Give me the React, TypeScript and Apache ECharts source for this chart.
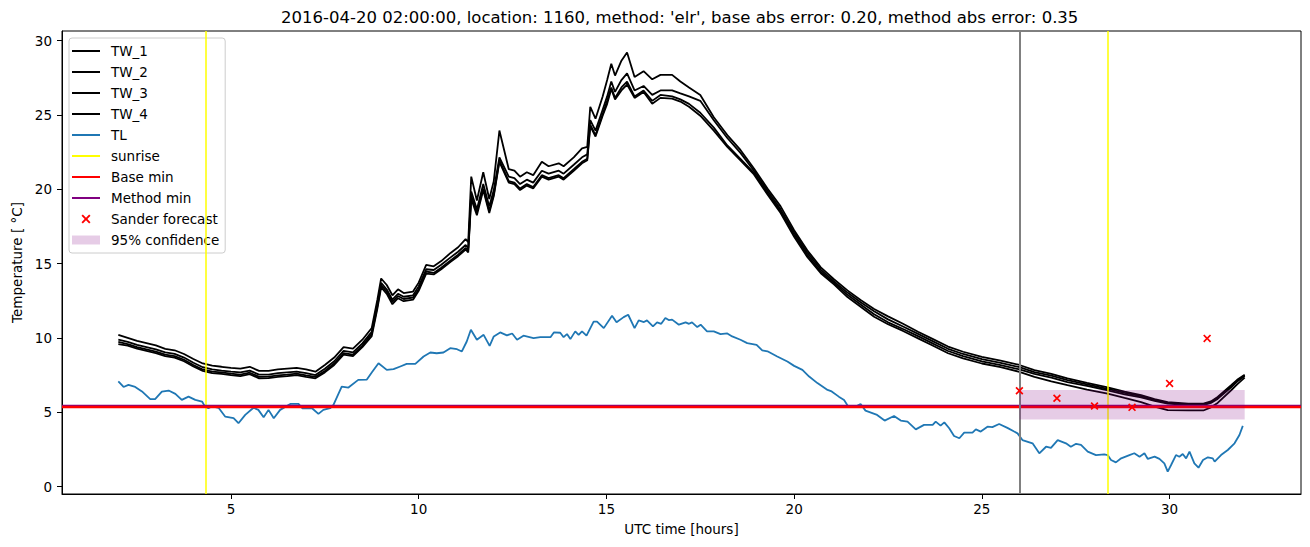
import React, { useEffect, useRef } from "react";
import * as echarts from "echarts";

const TITLE =
  "2016-04-20 02:00:00, location: 1160, method: 'elr', base abs error: 0.20, method abs error: 0.35";

const TW_HOURS = [
  2.0, 2.25, 2.5, 2.75, 3.0, 3.25, 3.5, 3.75, 4.0, 4.25, 4.5, 4.75, 5.0, 5.25, 5.5, 5.75, 6.0, 6.25, 6.5, 6.75,
  7.0, 7.25, 7.5, 7.75, 8.0, 8.25, 8.5, 8.75, 8.9, 9.0, 9.15, 9.3, 9.45, 9.6, 9.85, 10.0, 10.2, 10.4, 10.6, 10.85,
  11.05, 11.25, 11.32, 11.4, 11.55, 11.72, 11.88, 12.0, 12.15, 12.4, 12.55, 12.7, 12.88, 13.05, 13.28, 13.46, 13.73, 13.86, 14.13, 14.35,
  14.49, 14.57, 14.71, 14.9, 15.02, 15.13, 15.23, 15.4, 15.55, 15.75, 15.99, 16.22, 16.44, 16.75, 16.97, 17.2, 17.5, 17.86, 18.22, 18.57,
  18.93, 19.29, 19.64, 20.0, 20.35, 20.71, 21.06, 21.42, 21.77, 22.13, 22.5, 22.9, 23.3, 23.7, 24.1, 24.5, 25.0, 25.5, 26.0, 26.4,
  26.85, 27.28, 27.8, 28.35, 28.8, 29.24, 29.6, 29.95, 30.5, 30.9, 31.1, 31.28, 31.64, 31.8, 32.0,
];

const TW_1 = [
  10.2, 10.0, 9.8, 9.65, 9.5, 9.27, 9.17, 8.92, 8.58, 8.28, 8.13, 8.06, 7.98, 7.93, 8.06, 7.78, 7.78, 7.88, 7.93, 7.98,
  7.88, 7.73, 8.18, 8.68, 9.38, 9.28, 9.88, 10.67, 12.57, 14.0, 13.56, 12.87, 13.27, 13.02, 13.12, 13.72, 14.92, 14.82, 15.17, 15.72,
  16.1, 16.65, 16.45, 20.85, 19.25, 21.15, 19.35, 20.55, 23.95, 21.35, 21.25, 20.85, 21.15, 20.95, 21.85, 21.55, 21.75, 21.55, 22.15, 22.75,
  22.85, 25.55, 24.75, 26.25, 27.35, 28.45, 27.65, 28.65, 29.2, 27.55, 27.95, 27.4, 27.7, 27.7, 27.25, 26.85, 26.35, 24.85, 23.65, 22.65,
  21.4, 20.05, 18.85, 17.25, 15.9, 14.75, 13.95, 13.2, 12.55, 11.95, 11.45, 10.95, 10.42, 9.92, 9.42, 9.07, 8.72, 8.47, 8.18, 7.83,
  7.58, 7.28, 6.98, 6.67, 6.38, 6.15, 5.88, 5.68, 5.58, 5.58, 5.73, 6.03, 6.82, 7.18, 7.53,
];

const TW_2 = [
  9.88, 9.73, 9.53, 9.38, 9.23, 9.03, 8.93, 8.68, 8.33, 8.03, 7.88, 7.8, 7.73, 7.68, 7.8, 7.53, 7.53, 7.63, 7.68, 7.73,
  7.63, 7.5, 7.93, 8.43, 9.13, 9.03, 9.63, 10.42, 12.27, 13.71, 13.26, 12.57, 12.97, 12.77, 12.87, 13.47, 14.62, 14.57, 14.92, 15.42,
  15.8, 16.25, 16.05, 19.85, 18.65, 20.35, 18.85, 19.95, 22.15, 20.85, 20.75, 20.35, 20.65, 20.45, 21.25, 21.05, 21.25, 21.05, 21.65, 22.15,
  22.35, 24.65, 23.95, 25.35, 26.25, 27.25, 26.55, 27.35, 27.8, 26.65, 26.95, 26.35, 26.65, 26.65, 26.45, 26.25, 25.95, 24.65, 23.45, 22.45,
  21.25, 19.9, 18.65, 17.1, 15.75, 14.6, 13.8, 13.05, 12.4, 11.8, 11.25, 10.77, 10.27, 9.77, 9.27, 8.92, 8.57, 8.32, 8.03, 7.7,
  7.46, 7.16, 6.88, 6.58, 6.3, 6.08, 5.82, 5.63, 5.53, 5.53, 5.68, 5.98, 6.76, 7.13, 7.48,
];

const TW_3 = [
  9.73, 9.58, 9.38, 9.23, 9.08, 8.88, 8.78, 8.53, 8.18, 7.88, 7.73, 7.68, 7.6, 7.53, 7.66, 7.38, 7.4, 7.48, 7.53, 7.6,
  7.48, 7.38, 7.78, 8.28, 8.98, 8.88, 9.48, 10.27, 12.12, 13.56, 13.11, 12.42, 12.82, 12.62, 12.72, 13.27, 14.47, 14.37, 14.72, 15.22,
  15.6, 16.05, 15.9, 19.55, 18.45, 20.05, 18.55, 19.65, 21.95, 20.55, 20.45, 20.05, 20.35, 20.15, 20.95, 20.75, 20.95, 20.75, 21.35, 21.85,
  22.05, 24.35, 23.65, 25.05, 25.95, 26.85, 26.15, 26.85, 27.25, 26.25, 26.65, 25.95, 26.35, 26.25, 26.05, 25.75, 25.15, 24.15, 22.95, 22.05,
  21.1, 19.75, 18.5, 16.95, 15.6, 14.45, 13.7, 12.9, 12.25, 11.6, 11.05, 10.6, 10.12, 9.62, 9.12, 8.77, 8.42, 8.17, 7.88, 7.58,
  7.33, 7.03, 6.78, 6.48, 6.2, 6.0, 5.76, 5.58, 5.48, 5.48, 5.63, 5.9, 6.68, 7.06, 7.43,
];

const TW_4 = [
  9.58, 9.48, 9.28, 9.13, 8.98, 8.78, 8.68, 8.43, 8.08, 7.78, 7.63, 7.58, 7.5, 7.43, 7.56, 7.28, 7.3, 7.38, 7.43, 7.5,
  7.38, 7.28, 7.68, 8.18, 8.88, 8.78, 9.38, 10.12, 11.97, 13.41, 12.96, 12.27, 12.67, 12.47, 12.57, 13.17, 14.32, 14.27, 14.62, 15.12,
  15.5, 15.95, 15.75, 19.35, 18.25, 19.95, 18.4, 19.55, 21.85, 20.45, 20.35, 19.95, 20.25, 20.05, 20.85, 20.65, 20.85, 20.65, 21.25, 21.75,
  21.95, 24.25, 23.55, 24.95, 25.75, 26.75, 26.05, 26.65, 27.05, 26.15, 26.55, 25.75, 26.15, 26.1, 25.9, 25.55, 24.95, 23.95, 22.85, 21.95,
  21.0, 19.65, 18.4, 16.8, 15.45, 14.35, 13.6, 12.75, 12.1, 11.42, 10.92, 10.47, 9.97, 9.47, 8.97, 8.62, 8.28, 8.03, 7.72, 7.38,
  7.08, 6.82, 6.53, 6.26, 5.96, 5.68, 5.38, 5.14, 5.12, 5.12, 5.33, 5.63, 6.48, 6.88, 7.33,
];

const TL_HOURS = [
  2.0, 2.14, 2.27, 2.45, 2.63, 2.85, 2.98, 3.16, 3.34, 3.52, 3.69, 3.87, 4.05, 4.23, 4.31, 4.4, 4.5, 4.67, 4.85, 5.07,
  5.2, 5.38, 5.6, 5.73, 5.87, 6.0, 6.14, 6.31, 6.58, 6.8, 6.9, 7.16, 7.33, 7.46, 7.64, 7.73, 7.95, 8.13, 8.39, 8.62,
  8.75, 8.93, 9.15, 9.33, 9.51, 9.68, 9.91, 10.13, 10.31, 10.48, 10.66, 10.84, 11.02, 11.15, 11.28, 11.39, 11.55, 11.73, 11.89, 12.0,
  12.17, 12.35, 12.49, 12.62, 12.79, 13.06, 13.24, 13.51, 13.6, 13.77, 13.86, 13.95, 14.04, 14.17, 14.26, 14.35, 14.47, 14.66, 14.75, 14.93,
  15.15, 15.27, 15.46, 15.58, 15.75, 15.86, 16.0, 16.08, 16.24, 16.35, 16.46, 16.57, 16.66, 16.75, 16.93, 17.11, 17.2, 17.28, 17.42, 17.51,
  17.68, 17.86, 18.04, 18.22, 18.35, 18.57, 18.75, 19.0, 19.15, 19.29, 19.55, 19.82, 20.0, 20.22, 20.4, 20.62, 20.89, 21.0, 21.19, 21.33,
  21.43, 21.68, 21.77, 21.9, 22.21, 22.41, 22.66, 22.84, 23.02, 23.24, 23.46, 23.69, 23.77, 23.9, 24.0, 24.13, 24.26, 24.4, 24.53, 24.75,
  24.84, 24.97, 25.15, 25.28, 25.46, 25.68, 25.86, 25.95, 26.08, 26.35, 26.53, 26.71, 26.84, 27.02, 27.24, 27.37, 27.51, 27.64, 27.82, 28.04,
  28.26, 28.35, 28.44, 28.57, 28.71, 28.93, 29.06, 29.2, 29.33, 29.42, 29.6, 29.73, 29.86, 29.95, 30.04, 30.17, 30.26, 30.35, 30.44, 30.53,
  30.66, 30.77, 30.89, 31.02, 31.15, 31.2, 31.37, 31.55, 31.73, 31.86, 31.95,
];

const TL = [
  7.07, 6.7, 6.84, 6.7, 6.4, 5.88, 5.88, 6.39, 6.46, 6.24, 5.83, 6.05, 5.83, 5.72, 5.38, 5.27, 5.4, 5.3, 4.7, 4.6,
  4.26, 4.82, 5.3, 5.16, 4.66, 5.16, 4.6, 5.16, 5.56, 5.56, 5.27, 5.27, 4.89, 5.16, 5.27, 5.49, 6.73, 6.66, 7.18, 7.2,
  7.67, 8.3, 7.85, 7.9, 8.08, 8.25, 8.25, 8.75, 9.02, 8.97, 9.02, 9.31, 9.24, 9.09, 9.76, 10.55, 9.88, 10.21, 9.47, 10.1,
  10.37, 10.17, 10.3, 9.88, 10.15, 9.99, 10.05, 10.05, 10.37, 10.35, 10.05, 10.26, 9.92, 10.44, 10.2, 10.44, 10.15, 11.1, 11.1, 10.66,
  11.5, 11.05, 11.4, 11.56, 10.66, 11.18, 11.07, 11.18, 10.78, 11.05, 10.95, 11.34, 11.2, 11.23, 10.89, 11.05, 10.95, 11.05, 10.73, 10.89,
  10.44, 10.44, 10.26, 10.3, 10.1, 9.88, 9.65, 9.54, 9.16, 9.1, 8.75, 8.41, 8.12, 7.85, 7.4, 6.96, 6.5, 6.4, 6.05, 5.83,
  5.43, 5.43, 5.56, 5.11, 4.82, 4.44, 4.75, 4.44, 4.37, 3.85, 4.15, 4.15, 4.37, 4.1, 4.32, 3.92, 3.4, 3.25, 3.63, 3.63,
  3.85, 3.7, 4.03, 4.0, 4.21, 3.95, 3.7, 3.58, 3.13, 2.91, 2.24, 2.68, 2.6, 3.13, 2.91, 2.68, 2.88, 2.8, 2.35, 2.12,
  2.17, 2.12, 1.79, 1.63, 1.9, 2.12, 2.24, 2.01, 2.24, 1.86, 2.01, 1.86, 1.56, 1.0, 1.45, 2.12, 2.01, 2.19, 1.9, 2.35,
  1.56, 1.27, 1.79, 1.97, 1.9, 1.68, 2.12, 2.46, 2.91, 3.47, 4.08,
];

const SUNRISE_HOURS = [4.34, 28.355];
const NOW_HOUR = 26;
const BASE_MIN = 5.34;
const METHOD_MIN = 5.47;
const SANDER_HOURS = [26, 27, 28, 29, 30, 31];
const SANDER_VALUES = [6.45, 5.94, 5.42, 5.33, 6.94, 9.97];
const CONF_START = 26;
const CONF_END = 32;
const CONF_LOW = 4.52;
const CONF_HIGH = 6.49;
const X_TICKS = [5, 10, 15, 20, 25, 30];
const Y_TICKS = [0, 5, 10, 15, 20, 25, 30];

const FONT = "DejaVu Sans";
const SMALL = 13.5;
const X_MARK = "path://M1.5,0 L5,3.5 L8.5,0 L10,1.5 L6.5,5 L10,8.5 L8.5,10 L5,6.5 L1.5,10 L0,8.5 L3.5,5 L0,1.5 Z";
const LINE_ICON = "path://M0,0 L28,0 L28,2 L0,2 Z";
const CONF_COLOR = "rgba(128,0,128,0.2)";

function zip(xs: number[], ys: number[]) {
  return xs.map((x, i) => [x, ys[i]]);
}

function vline(name: string, color: string, width: number, xs: number[], z: number) {
  return {
    name,
    type: "line",
    data: [],
    z,
    itemStyle: { color },
    lineStyle: { color, width },
    symbol: "none",
    markLine: {
      silent: true,
      symbol: ["none", "none"],
      label: { show: false },
      lineStyle: { color, width, type: "solid" },
      data: xs.map((x) => ({ xAxis: x })),
    },
  };
}

function hline(name: string, color: string, width: number, y: number, z: number) {
  return {
    name,
    type: "line",
    data: [],
    z,
    itemStyle: { color },
    lineStyle: { color, width },
    symbol: "none",
    markLine: {
      silent: true,
      symbol: ["none", "none"],
      label: { show: false },
      lineStyle: { color, width, type: "solid" },
      data: [{ yAxis: y }],
    },
  };
}

export default function App() {
  const ref = useRef<HTMLDivElement>(null);
  useEffect(() => {
    if (!ref.current) return;
    const chart = echarts.init(ref.current, null, { renderer: "svg" });
    const twLine = (name: string, ys: number[]) => ({
      name,
      type: "line",
      data: zip(TW_HOURS, ys),
      symbol: "none",
      z: 2,
      itemStyle: { color: "#000" },
      lineStyle: { color: "#000", width: 1.8 },
    });
    chart.setOption({
      animation: false,
      textStyle: { fontFamily: FONT },
      title: {
        text: TITLE,
        left: 281,
        top: 9,
        padding: 0,
        textStyle: { fontSize: 16.5, fontWeight: "normal", color: "#000", fontFamily: FONT },
      },
      grid: {
        left: 62,
        right: 9,
        top: 31,
        bottom: 53,
        show: true,
        borderColor: "#000",
        borderWidth: 1,
        backgroundColor: "transparent",
      },
      legend: {
        orient: "vertical",
        left: 69,
        top: 38,
        padding: [5, 6, 5, 3],
        itemWidth: 28,
        itemHeight: 9,
        itemGap: 5,
        selectedMode: false,
        borderColor: "#cccccc",
        borderWidth: 1,
        borderRadius: 3,
        backgroundColor: "transparent",
        textStyle: { fontSize: SMALL, color: "#000", fontFamily: FONT, lineHeight: 16, padding: [0, 0, 0, 6] },
        data: [
          { name: "TW_1", icon: LINE_ICON },
          { name: "TW_2", icon: LINE_ICON },
          { name: "TW_3", icon: LINE_ICON },
          { name: "TW_4", icon: LINE_ICON },
          { name: "TL", icon: LINE_ICON },
          { name: "sunrise", icon: LINE_ICON },
          { name: "Base min", icon: LINE_ICON },
          { name: "Method min", icon: LINE_ICON },
          "Sander forecast",
          { name: "95% confidence", icon: "rect" },
        ],
      },
      xAxis: {
        type: "value",
        min: 0.5,
        max: 33.5,
        name: "UTC time [hours]",
        nameLocation: "middle",
        nameGap: 28,
        nameTextStyle: { fontSize: SMALL, color: "#000", fontFamily: FONT },
        axisLine: { onZero: false, lineStyle: { color: "#000", width: 1 } },
        axisTick: { customValues: X_TICKS, length: 5, lineStyle: { color: "#000", width: 1 } },
        axisLabel: { customValues: X_TICKS, fontSize: SMALL, color: "#000", margin: 8, fontFamily: FONT },
        splitLine: { show: false },
      },
      yAxis: {
        type: "value",
        min: -0.5,
        max: 30.65,
        name: "Temperature [ °C]",
        nameLocation: "middle",
        nameGap: 37,
        nameTextStyle: { fontSize: SMALL, color: "#000", fontFamily: FONT },
        axisLine: { onZero: false, lineStyle: { color: "#000", width: 1 } },
        axisTick: { customValues: Y_TICKS, length: 5, lineStyle: { color: "#000", width: 1 } },
        axisLabel: { customValues: Y_TICKS, fontSize: SMALL, color: "#000", margin: 10, fontFamily: FONT },
        splitLine: { show: false },
      },
      series: [
        twLine("TW_1", TW_1),
        twLine("TW_2", TW_2),
        twLine("TW_3", TW_3),
        twLine("TW_4", TW_4),
        {
          name: "TL",
          type: "line",
          data: zip(TL_HOURS, TL),
          symbol: "none",
          z: 2,
          itemStyle: { color: "#1f77b4" },
          lineStyle: { color: "#1f77b4", width: 1.8 },
        },
        vline("sunrise", "#ffff00", 1.5, SUNRISE_HOURS, 3),
        hline("Method min", "#800080", 2.3, METHOD_MIN, 3),
        hline("Base min", "#ff0000", 2.3, BASE_MIN, 4),
        {
          name: "Sander forecast",
          type: "scatter",
          data: zip(SANDER_HOURS, SANDER_VALUES),
          symbol: X_MARK,
          symbolSize: 8,
          z: 6,
          itemStyle: { color: "#ff0000", opacity: 1 },
        },
        {
          name: "95% confidence",
          type: "custom",
          z: 5,
          data: [[CONF_START, CONF_END, CONF_LOW, CONF_HIGH]],
          encode: { x: [0, 1], y: [2, 3] },
          itemStyle: { color: CONF_COLOR },
          renderItem: (params: any, api: any) => {
            const p1 = api.coord([api.value(0), api.value(3)]);
            const p2 = api.coord([api.value(1), api.value(2)]);
            return {
              type: "rect",
              shape: { x: p1[0], y: p1[1], width: p2[0] - p1[0], height: p2[1] - p1[1] },
              style: { fill: CONF_COLOR },
            };
          },
        },
        vline("", "#808080", 2, [NOW_HOUR], 3),
      ],
    });
    return () => chart.dispose();
  }, []);
  return <div ref={ref} style={{ position: "absolute", left: 0, top: 0, width: 1310, height: 547 }} />;
}
